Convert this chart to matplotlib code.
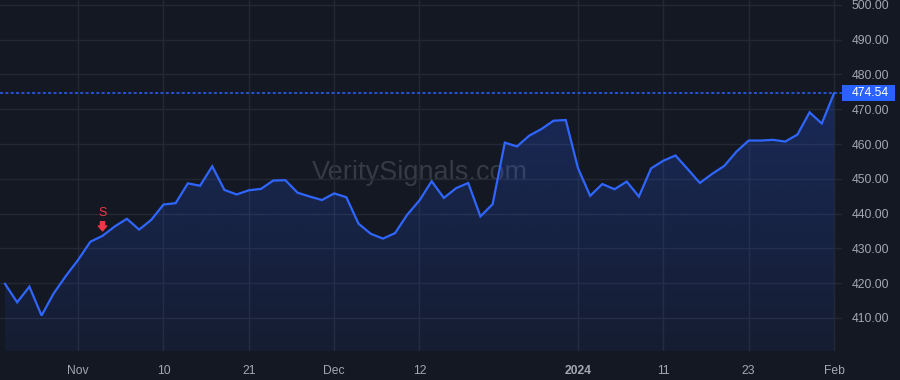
import matplotlib
matplotlib.use("Agg")
import matplotlib.pyplot as plt
import matplotlib.transforms as mtransforms
from matplotlib.patches import Rectangle
import numpy as np

# Daily closes, Oct 24 2023 .. Feb 1 2024 (trading days)
closes = [
    419.8, 414.5, 419.0, 410.7, 417.1, 422.1, 426.7, 431.9, 433.6, 436.3,
    438.5, 435.4, 438.2, 442.6, 443.0, 448.7, 448.0, 453.6, 446.8, 445.5,
    446.7, 447.1, 449.5, 449.6, 446.0, 444.9, 443.9, 445.8, 444.7, 437.1,
    434.2, 432.8, 434.4, 439.7, 443.8, 449.3, 444.5, 447.3, 448.8, 439.2,
    442.7, 460.4, 459.3, 462.4, 464.3, 466.7, 466.9, 453.1, 445.1, 448.5,
    447.0, 449.2, 444.9, 453.0, 455.2, 456.7, 452.8, 448.8, 451.4, 453.7,
    457.8, 461.0, 461.0, 461.2, 460.7, 462.7, 469.1, 465.9, 474.54,
]
last_price = 474.54

# x tick positions (trading-day index) and labels
tick_idx = [6, 13, 20, 27, 34, 47, 54, 61, 68]
tick_labels = ["Nov", "10", "21", "Dec", "12", "2024", "11", "23", "Feb"]
y_ticks = [410, 420, 430, 440, 450, 460, 470, 480, 490, 500]

# sell signal
signal_idx = 8
signal_label = "S"

watermark = "VeritySignals.com"

BG = "#141823"
GRID = "#242834"
TEXT = "#a4a7b0"
BLUE = "#2f66ff"
RED = "#f23645"

plt.rcParams["font.family"] = ["Liberation Sans", "DejaVu Sans"]

fig = plt.figure(figsize=(9, 3.8), dpi=100, facecolor=BG)
ax = fig.add_axes([0, 29 / 380, 842 / 900, 351 / 380], facecolor=BG)

x = np.arange(len(closes))
y = np.array(closes)

ax.set_xlim(-0.41, 68.66)
ax.set_ylim(400.5, 501.4)

# gradient area under line
poly = ax.fill_between(x, y, 400.5, color="none", lw=0)
grad = np.zeros((256, 1, 4))
grad[:, 0, 0] = 41 / 255
grad[:, 0, 1] = 98 / 255
grad[:, 0, 2] = 1.0
grad[:, 0, 3] = np.linspace(0.24, 0.07, 256)
ymax = y.max()
img = ax.imshow(grad, aspect="auto", extent=(x[0], x[-1], 400.5, ymax),
                origin="upper", zorder=1)
img.set_clip_path(poly.get_paths()[0], transform=ax.transData)

ax.plot(x, y, color=BLUE, lw=1.6, zorder=3, solid_joinstyle="miter")

# last price dotted line + label
ax.axhline(last_price, color="#2962ff", lw=1.1, linestyle=(0, (2, 1.5)), zorder=2)
trans = mtransforms.blended_transform_factory(ax.transAxes, ax.transData)
ax.add_patch(Rectangle((1.0, last_price - 2.3), 53 / 842, 4.6, transform=trans,
                       facecolor="#2962ff", edgecolor="none", clip_on=False, zorder=5))
ax.text(1.0 + 10 / 842, last_price, f"{last_price:.2f}", transform=trans,
        color="white", fontsize=8.7, ha="left", va="center", zorder=6)

# watermark
ax.text(0.499, 0.507, watermark, transform=ax.transAxes, color="#363a45",
        fontsize=19.5, ha="center", va="center", zorder=0)

# sell signal marker
sv = closes[signal_idx]
ax.annotate("", xy=(signal_idx, sv), xytext=(0, 10.2), textcoords="offset points",
            arrowprops=dict(arrowstyle="simple,head_width=0.6,head_length=0.35,tail_width=0.3",
                            color=RED, shrinkA=0, shrinkB=3.6, mutation_scale=10), zorder=6)
ax.annotate(signal_label, xy=(signal_idx, sv), xytext=(0, 16.5), textcoords="offset points",
            color=RED, fontsize=9, ha="center", va="center")

# axes styling
ax.set_xticks(tick_idx)
ax.set_xticklabels(tick_labels)
for lbl in ax.get_xticklabels():
    if lbl.get_text() == "2024":
        lbl.set_fontweight("bold")
        lbl.set_color("#c3c6ce")
ax.set_yticks(y_ticks)
ax.set_yticklabels([f"{v:.2f}" for v in y_ticks])
ax.yaxis.tick_right()
ax.tick_params(axis="both", length=0, colors=TEXT, labelsize=8.7)
ax.tick_params(axis="x", pad=10)
ax.tick_params(axis="y", pad=7)
ax.grid(True, color=GRID, lw=1)
ax.set_axisbelow(True)
for s in ax.spines.values():
    s.set_visible(False)

fig.savefig("out.png", dpi=100, facecolor=BG)
